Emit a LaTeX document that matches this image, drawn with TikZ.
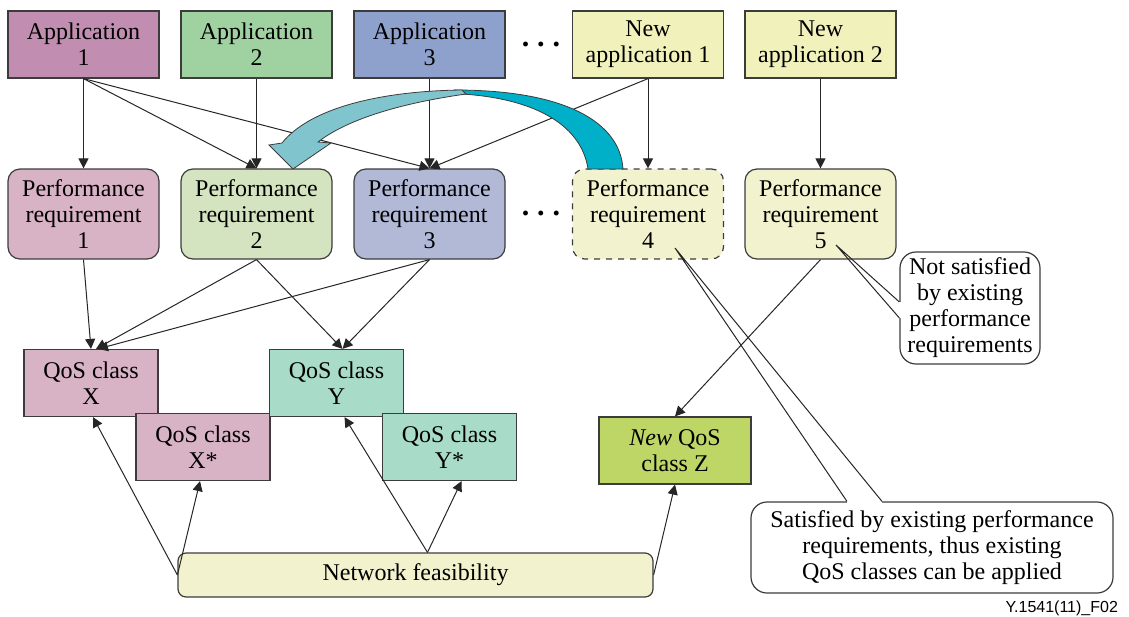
\documentclass[tikz,border=0pt]{standalone}
\usepackage{fontspec}
\setmainfont{Liberation Serif}
\newfontfamily\figfont{Liberation Sans}
\usepackage{tikz}
\usetikzlibrary{arrows.meta, calc}
\definecolor{appone}{RGB}{193,141,176}
\definecolor{apptwo}{RGB}{160,209,161}
\definecolor{appthree}{RGB}{142,161,205}
\definecolor{newapp}{RGB}{241,241,188}
\definecolor{reqone}{RGB}{216,178,197}
\definecolor{reqtwo}{RGB}{213,228,192}
\definecolor{reqthree}{RGB}{177,185,214}
\definecolor{reqnew}{RGB}{242,242,206}
\definecolor{qosy}{RGB}{168,219,200}
\definecolor{qosz}{RGB}{189,214,101}
\definecolor{turnback}{RGB}{128,196,206}
\definecolor{turnfront}{RGB}{0,175,200}
\definecolor{boxline}{RGB}{60,60,60}

\tikzset{
  appbox/.style={draw=boxline, line width=0.6pt, minimum width=75.5pt, minimum height=33.5pt,
    inner sep=0pt, align=center, font=\fontsize{12}{13}\selectfont},
  reqbox/.style={appbox, rounded corners=6pt, minimum height=45pt},
  qosbox/.style={appbox, minimum width=67pt, minimum height=33.5pt},
  note/.style={draw=boxline, line width=0.6pt, fill=white, rounded corners=8pt, align=center,
    inner sep=0pt, font=\fontsize{12}{13}\selectfont},
  link/.style={draw=black!85, line width=0.5pt, -{Triangle[length=5pt,width=5pt]}},
  wedge/.style={draw=black!85, line width=0.5pt},
  dotrow/.style={font=\fontsize{15}{15}\bfseries\selectfont}
}

\begin{document}
\begin{tikzpicture}[x=0.5pt, y=-0.5pt]
  \useasboundingbox (0,0) rectangle (1129,616);

  % applications
  \node[appbox, fill=appone]   (app1)  at (83.5,44.5)  {Application\\1};
  \node[appbox, fill=apptwo]   (app2)  at (256.5,44.5) {Application\\2};
  \node[appbox, fill=appthree] (app3)  at (429.5,44.5) {Application\\3};
  \node[dotrow]                (dotsa) at (541,44)     {.\hspace{4pt}.\hspace{4pt}.};
  \node[appbox, fill=newapp]   (napp1) at (648,44.5)   {New\\application 1};
  \node[appbox, fill=newapp]   (napp2) at (820.5,44.5) {New\\application 2};

  % performance requirements
  \node[reqbox, fill=reqone]   (req1)  at (83.5,214)  {Performance\\requirement\\1};
  \node[reqbox, fill=reqtwo]   (req2)  at (256.5,214) {Performance\\requirement\\2};
  \node[reqbox, fill=reqthree] (req3)  at (429.5,214) {Performance\\requirement\\3};
  \node[dotrow]                (dotsb) at (541,213)   {.\hspace{4pt}.\hspace{4pt}.};
  \node[reqbox, fill=reqnew, dashed] (req4) at (648,214) {Performance\\requirement\\4};
  \node[reqbox, fill=reqnew]   (req5)  at (820.5,214) {Performance\\requirement\\5};

  % QoS classes
  \node[qosbox, fill=reqone] (qx)  at (91,383)    {QoS class\\X};
  \node[qosbox, fill=reqone] (qxs) at (203,447)   {QoS class\\X*};
  \node[qosbox, fill=qosy]   (qy)  at (336.5,383) {QoS class\\Y};
  \node[qosbox, fill=qosy]   (qys) at (449.5,447) {QoS class\\Y*};
  \node[qosbox, fill=qosz, minimum width=76pt] (qz) at (675,450.5) {\textit{New} QoS\\class Z};

  % network feasibility
  \node[appbox, fill=reqnew, rounded corners=4pt, minimum width=237.5pt, minimum height=22pt]
    (nf) at (415.5,575) {Network feasibility};

  % application -> requirement
  \draw[link] (app1.south) -- (req1.north);
  \draw[link] (app1.south) -- (req2.north);
  \draw[link] (app1.south) -- (req3.north);
  \draw[link] (app2.south) -- (req2.north);
  \draw[link] (app3.south) -- (req3.north);
  \draw[link] (napp1.south) -- (req3.north);
  \draw[link] (napp1.south) -- (req4.north);
  \draw[link] (napp2.south) -- (req5.north);

  % requirement -> QoS class
  \draw[link] (req1.south) -- (qx.north);
  \draw[link] (req2.south) -- ($(qx.north)+(5,0)$);
  \draw[link] (req3.south) -- ($(qx.north)+(7,0)$);
  \draw[link] (req2.south) -- ($(qy.north)+(6,0)$);
  \draw[link] (req3.south) -- ($(qy.north)+(6,0)$);
  \draw[link] (req5.south) -- (qz.north);

  % network feasibility -> QoS class
  \draw[link] (nf.west) -- ($(qx.south)+(2,0)$);
  \draw[link] (nf.west) -- ($(qxs.south)+(-3,0)$);
  \draw[link] ($(nf.north)+(12,0)$) -- ($(qy.south)+(8,0)$);
  \draw[link] ($(nf.north)+(12,0)$) -- ($(qys.south)+(12,0)$);
  \draw[link] (nf.east) -- (qz.south);

  % curved arrow from requirement 4 back to requirement 2
  \filldraw[fill=turnfront, draw=boxline, line width=0.4pt]
    (455,90) .. controls (565,90) and (620,122) .. (623,169)
    -- (588,169) .. controls (582,128) and (540,99) .. (462,94) -- cycle;
  \filldraw[fill=turnback, draw=boxline, line width=0.4pt]
    (462,90) .. controls (380,91) and (310,108) .. (282,143)
    -- (269,145) -- (293,169) -- (331,143) -- (318,142)
    .. controls (345,121) and (395,104) .. (466,94) -- cycle;

  % callouts
  \node[note, minimum width=70pt, minimum height=56pt] (nsat) at (970,308)
    {Not satisfied\\by existing\\performance\\requirements};
  \node[note, minimum width=181pt, minimum height=45.5pt] (sat) at (932,547.5)
    {Satisfied by existing performance\\requirements, thus existing\\QoS classes can be applied};
  \coordinate (tipa) at ($(req5.center)+(15.5,31)$);
  \coordinate (tipb) at ($(req4.center)+(27,34)$);
  \draw[white, line width=1.2pt] ($(nsat.west)+(0,-6)$) -- ($(nsat.west)+(0,10)$);
  \draw[wedge] ($(nsat.west)+(0,-6)$) -- (tipa) -- ($(nsat.west)+(0,10)$);
  \draw[white, line width=1.2pt] ($(sat.north)+(-85,0)$) -- ($(sat.north)+(-50,0)$);
  \draw[wedge] ($(sat.north)+(-85,0)$) -- (tipb) -- ($(sat.north)+(-50,0)$);

  % figure id
  \node[font=\figfont\fontsize{8}{9}\selectfont, anchor=base east] (figid) at (1125,612) {Y.1541(11)\_F02};
\end{tikzpicture}
\end{document}
